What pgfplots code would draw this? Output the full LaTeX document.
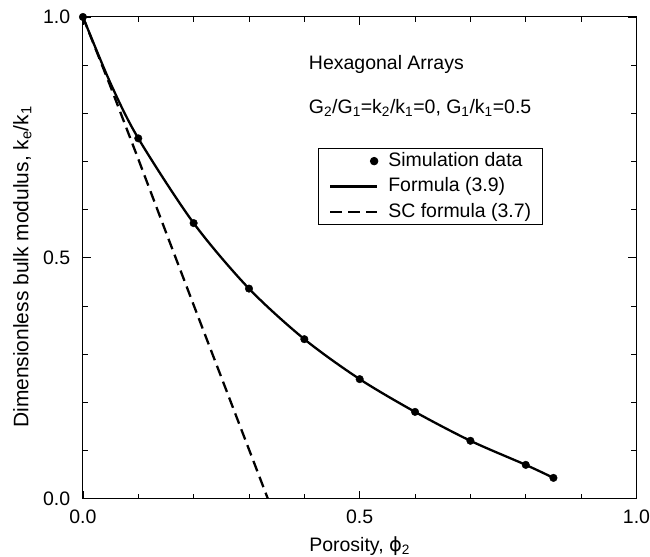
\documentclass[border=0pt]{standalone}
\usepackage{fontspec}
\setmainfont{Liberation Sans}
\newfontfamily\dvs{DejaVu Sans}
\usepackage{pgfplots}
\pgfplotsset{compat=1.18}
\usetikzlibrary{calc}
\newcommand\f{\fontsize{19.5bp}{23bp}\selectfont}
\begin{document}
\begin{tikzpicture}[font=\f]
\begin{axis}[
  scale only axis, width=554bp, height=482bp,
  xmin=0, xmax=1, ymin=0, ymax=1,
  xtick={0,0.5,1}, ytick={0,0.5,1},
  minor tick num=4,
  tick align=inside,
  major tick length=8bp, minor tick length=5bp,
  every tick/.style={black, line width=0.8bp},
  axis line style={line width=1bp},
  /pgf/number format/.cd, fixed, fixed zerofill, precision=1, assume math mode=true, /pgfplots/.cd,
  xticklabel style={inner sep=0pt, anchor=north, yshift=-11bp, font=\f},
  yticklabel style={inner sep=0pt, anchor=east, xshift=-12.5bp, font=\f},
  xlabel={Porosity, {\dvs\symbol{"03D5}}\textsubscript{2}},
  ylabel={Dimensionless bulk modulus, k\textsubscript{e}/k\textsubscript{1}},
  xlabel style={at={(axis description cs:0.5,-0.11)}, anchor=base, inner sep=0pt, font=\f},
  ylabel style={at={(axis description cs:-0.0987,0.481)}, anchor=base, inner sep=0pt, font=\fontsize{21bp}{25bp}\selectfont},
  legend style={at={(axis cs:0.424,0.728)}, anchor=north west, draw=black, line width=0.8bp,
    inner xsep=11bp, inner ysep=0bp, column sep=10bp, row sep=0bp, font=\f,
    nodes={inner xsep=0pt, inner ysep=3.75bp, text height=14bp, text depth=4bp}},
  legend cell align=left,
]
\addplot[only marks, mark=*, mark size=3.8, black,
  legend image code/.code={\path[draw=none, fill=none] (0bp,0bp) -- (47bp,0bp); \fill[black] (44bp,0bp) circle (3.8bp);}]
  coordinates {(0,1) (0.1,0.748) (0.2,0.572) (0.3,0.436) (0.4,0.331) (0.5,0.248) (0.6,0.180) (0.7,0.120) (0.8,0.070) (0.85,0.043)};
\addlegendentry{Simulation data}
\addplot[black, line width=2.3bp, smooth,
  legend image code/.code={\draw[black, line width=2.3bp] (0bp,0bp) -- (47bp,0bp);}]
  coordinates {(0,1) (0.05,0.862) (0.1,0.748) (0.2,0.572) (0.3,0.436) (0.4,0.331) (0.5,0.248) (0.6,0.180) (0.7,0.120) (0.8,0.070) (0.85,0.043)};
\addlegendentry{Formula (3.9)}
\addplot[black, line width=2.3bp, dash pattern=on 11bp off 6bp,
  legend image code/.code={\draw[black, line width=2.3bp, dash pattern=on 12bp off 6bp] (0bp,0bp) -- (47bp,0bp);}]
  coordinates {(0,1) (0.05,0.855) (0.1,0.705) (0.15,0.553) (0.2,0.402) (0.25,0.252) (0.3,0.102) (0.334,0)};
\addlegendentry{SC formula (3.7)}
\node[anchor=base west, inner sep=0pt] at (axis cs:0.408,0.8915) {Hexagonal Arrays};
\node[anchor=base west, inner sep=0pt] at (axis cs:0.408,0.800) {G\textsubscript{2}/G\textsubscript{1}=k\textsubscript{2}/k\textsubscript{1}=0, G\textsubscript{1}/k\textsubscript{1}=0.5};
\end{axis}
\path ($(current axis.south west)+(-83bp,-58bp)$) rectangle ($(current axis.north east)+(13bp,17bp)$);
\end{tikzpicture}
\end{document}
